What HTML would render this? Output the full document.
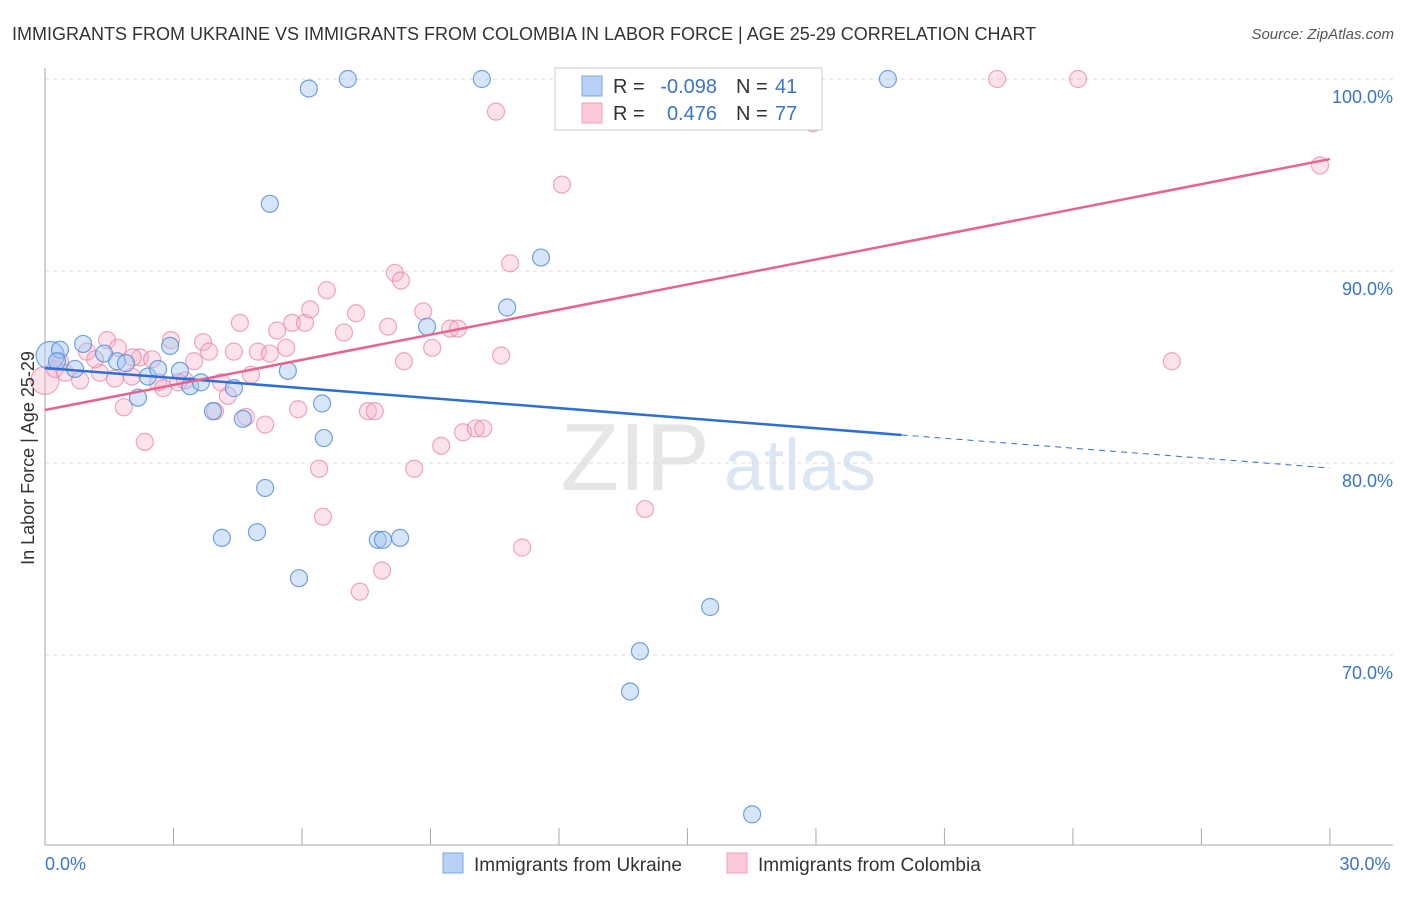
<!DOCTYPE html>
<html><head><meta charset="utf-8"><style>
body{margin:0;background:#fff;font-family:"Liberation Sans",sans-serif;}
svg text{font-family:"Liberation Sans",sans-serif;}
</style></head><body>
<svg id="chart" width="1406" height="892">
<text x="12" y="40" font-size="18" fill="#333">IMMIGRANTS FROM UKRAINE VS IMMIGRANTS FROM COLOMBIA IN LABOR FORCE | AGE 25-29 CORRELATION CHART</text>
<text x="1394" y="39" font-size="15" fill="#555" font-style="italic" text-anchor="end">Source: ZipAtlas.com</text>
<g>
<text x="635" y="490" font-size="96" fill="#e6e6e6" font-family="Liberation Serif" text-anchor="middle">ZIP</text>
<text x="800" y="490" font-size="72" fill="#dbe6f5" text-anchor="middle">atlas</text>
</g>
<g id="grid"></g><g id="axes"></g><g id="marks"></g><g id="lines"></g>
<text transform="translate(34,458) rotate(-90)" font-size="18" fill="#333" text-anchor="middle">In Labor Force | Age 25-29</text>
<g>
<rect x="555" y="68" width="267" height="62" fill="#fff" stroke="#ccc"/>
<rect x="582" y="76" width="20" height="20" fill="#b7d0f3" stroke="#7aa7e3"/>
<rect x="582" y="103" width="20" height="20" fill="#fcc9d8" stroke="#f0a0bb"/>
<text x="613" y="93" font-size="20" fill="#333">R = </text><text x="717" y="93" font-size="20" fill="#3a74d0" text-anchor="end">-0.098</text>
<text x="736" y="93" font-size="20" fill="#333">N = </text><text x="775" y="93" font-size="20" fill="#3a74d0">41</text>
<text x="613" y="120" font-size="20" fill="#333">R = </text><text x="717" y="120" font-size="20" fill="#3a74d0" text-anchor="end">0.476</text>
<text x="736" y="120" font-size="20" fill="#333">N = </text><text x="775" y="120" font-size="20" fill="#3a74d0">77</text>
</g>
<g>
<rect x="443" y="853" width="20" height="20" fill="#b7d0f3" stroke="#7aa7e3"/>
<text x="474" y="871" font-size="19" fill="#333">Immigrants from Ukraine</text>
<rect x="727" y="853" width="20" height="20" fill="#fcc9d8" stroke="#f0a0bb"/>
<text x="758" y="871" font-size="19" fill="#333">Immigrants from Colombia</text>
</g>
</svg>
<script>
const yTicks=[100,90,80,70];
const yTickLabels=["100.0%","90.0%","80.0%","70.0%"];
const xEndLabels=["0.0%","30.0%"];
const ukraineX=[0.12,0.35,0.89,0.70,1.38,1.68,1.89,2.40,2.17,2.64,2.92,3.15,3.39,3.64,3.92,4.41,4.62,5.25,5.14,4.13,4.95,5.67,5.93,6.16,6.47,6.51,7.07,7.77,7.89,8.29,8.92,10.2,10.79,11.58,13.66,13.89,14.08,15.53,16.51,19.68,0.28];
const ukraineY=[85.6,85.9,86.2,84.9,85.7,85.3,85.2,84.5,83.4,84.9,86.1,84.8,84.0,84.2,82.7,83.9,82.3,93.5,78.7,76.1,76.4,84.8,74.0,99.5,83.1,81.3,100,76.0,76.0,76.1,87.1,100,88.1,90.7,68.1,70.2,100,72.5,61.7,100,85.3];
const colombiaX=[0,0.23,0.47,0.82,0.98,1.28,1.45,1.70,1.84,2.03,2.22,2.33,2.50,2.64,2.76,2.94,3.11,3.27,3.48,3.69,3.83,3.97,4.11,4.27,4.41,4.55,4.69,4.81,4.97,5.14,5.25,5.42,5.63,5.77,5.91,6.07,6.19,6.40,6.49,6.58,6.98,7.26,7.35,7.54,7.70,7.87,8.01,8.17,8.31,8.38,8.62,8.83,9.04,9.25,9.46,9.64,9.76,10.06,10.23,10.53,10.65,10.86,11.14,12.07,14.01,16.58,17.93,22.23,24.12,26.31,29.77,0.35,1.17,1.63,2.05];
const colombiaY=[84.3,84.9,84.7,84.3,85.8,84.7,86.4,86.0,82.9,84.5,85.5,81.1,85.4,84.2,83.9,86.4,84.2,84.3,85.3,86.3,85.8,82.7,84.2,83.5,85.8,87.3,82.4,84.6,85.8,82.0,85.7,86.9,86.0,87.3,82.8,87.3,88.0,79.7,77.2,89.0,86.8,87.8,73.3,82.7,82.7,74.4,87.1,89.9,89.5,85.3,79.7,87.9,86.0,80.9,87.0,87.0,81.6,81.8,81.8,98.3,85.6,90.4,75.6,94.5,77.6,100,97.7,100,100,85.3,95.5,85.3,85.4,84.4,85.5];
const ukraineTrend=[[0,84.95],[20,81.46],[30,79.74]];
const colombiaTrend=[[0,82.76],[30,95.83]];
const X0=45,PXPER=42.83,Y100=79,PYPER=19.2;
function sx(v){return X0+v*PXPER;}
function sy(v){return Y100+(100-v)*PYPER;}
const NS="http://www.w3.org/2000/svg";
function mk(tag,attrs,parent){const e=document.createElementNS(NS,tag);for(const k in attrs)e.setAttribute(k,attrs[k]);parent.appendChild(e);return e;}
const grid=document.getElementById('grid'),axes=document.getElementById('axes'),marks=document.getElementById('marks'),lines=document.getElementById('lines');
yTicks.forEach((t,i)=>{
 const g=mk('line',{x1:45,x2:1393,y1:sy(t),y2:sy(t),stroke:'#ddd','stroke-dasharray':'4,4'},grid);
 
 
 const l=mk('text',{x:1393,y:sy(t)+24,'font-size':18,fill:'#3a74d0','text-anchor':'end'},axes);
 l.textContent=yTickLabels[i];
 
 
});
const ya=mk('line',{x1:45,x2:45,y1:68,y2:845,stroke:'#aaa'},axes);


const xa=mk('line',{x1:45,x2:1393,y1:845,y2:845,stroke:'#aaa'},axes);


for(let v=0;v<=30;v+=3){
 const t=mk('line',{x1:sx(v),x2:sx(v),y1:828,y2:845,stroke:'#aaa'},axes);
 
 
}
[[0,'start'],[30,'middle']].forEach((p,i)=>{
 const t=mk('text',{x:i?1365:45,y:870,'font-size':18,fill:'#3a74d0','text-anchor':p[1]},axes);
 t.textContent=xEndLabels[i];
 
 
});
function pts(xs,ys,fill,stroke,name){
 xs.forEach((x,i)=>{
  const c=mk('circle',{cx:sx(x),cy:sy(ys[i]),r:i===0?14:8.5,fill:fill,stroke:stroke,'stroke-width':1.2},marks);
  
  
 });
}
pts(colombiaX,colombiaY,'rgba(247,175,198,0.35)','rgba(232,130,165,0.7)','colombia-point');
pts(ukraineX,ukraineY,'rgba(165,198,240,0.45)','rgba(80,140,220,0.8)','ukraine-point');
const b1=mk('line',{x1:sx(ukraineTrend[0][0]),y1:sy(ukraineTrend[0][1]),x2:sx(ukraineTrend[1][0]),y2:sy(ukraineTrend[1][1]),stroke:'#2e6fd6','stroke-width':2.5},lines);


const b2=mk('line',{x1:sx(ukraineTrend[1][0]),y1:sy(ukraineTrend[1][1]),x2:sx(ukraineTrend[2][0]),y2:sy(ukraineTrend[2][1]),stroke:'#2e6fd6','stroke-width':1,'stroke-dasharray':'6,5'},lines);


const p1=mk('line',{x1:sx(colombiaTrend[0][0]),y1:sy(colombiaTrend[0][1]),x2:sx(colombiaTrend[1][0]),y2:sy(colombiaTrend[1][1]),stroke:'#e8648e','stroke-width':2.5},lines);


</script>
</body></html>
